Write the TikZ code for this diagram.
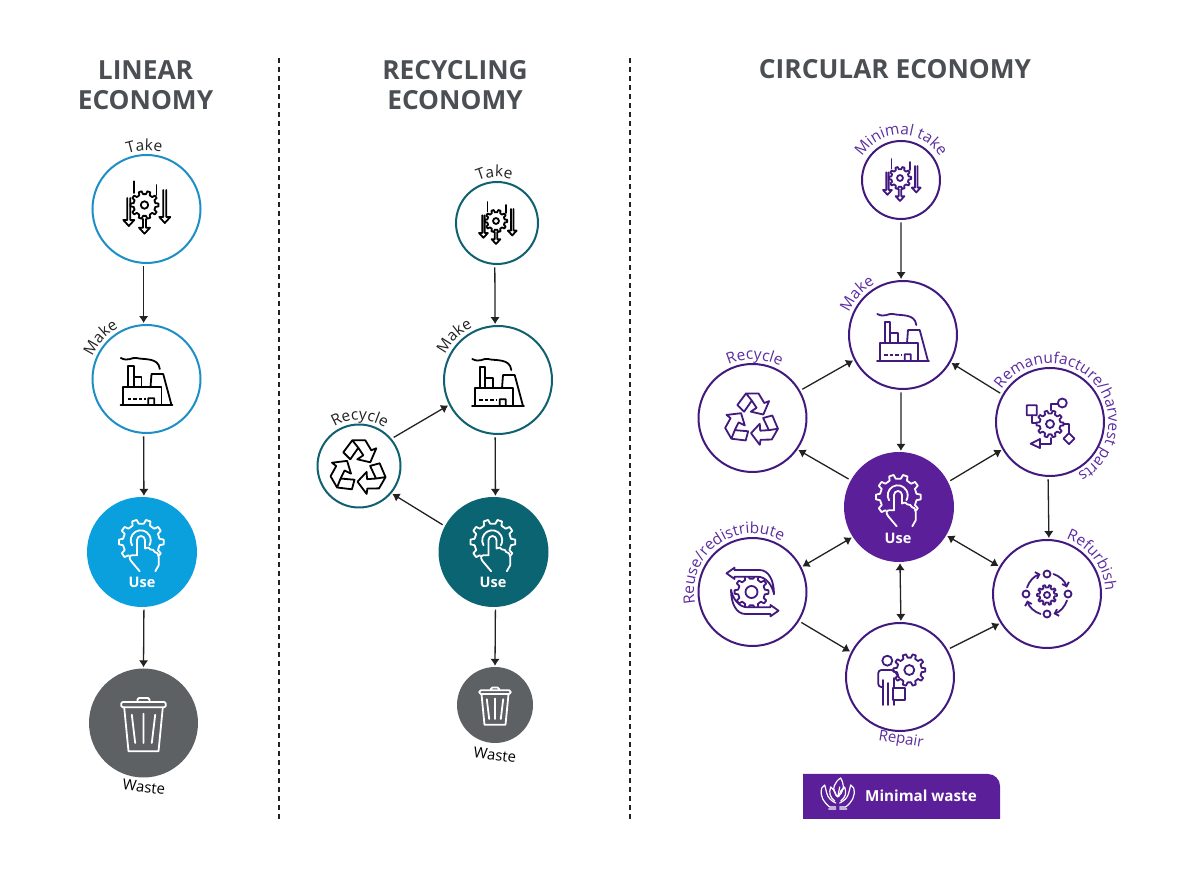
\documentclass[tikz,border=0pt]{standalone}
\usepackage{fontspec}
\setmainfont{Open Sans}
\usetikzlibrary{arrows.meta,calc,decorations.text}
\definecolor{Ink}{HTML}{222222}
\definecolor{Heading}{HTML}{4B4F54}
\definecolor{Sky}{HTML}{0A9FDD}
\definecolor{SkyLine}{HTML}{1E8FC6}
\definecolor{Petrol}{HTML}{0B6472}
\definecolor{PetrolLine}{HTML}{0F6070}
\definecolor{Bin}{HTML}{5E6163}
\definecolor{Grape}{HTML}{5A1F99}
\definecolor{GrapeLine}{HTML}{42197F}
\definecolor{GrapeText}{HTML}{5C2DA0}
\newcommand{\cog}[5]{\draw[iconline,shift={(#1,#2)}] (-10:#4) \foreach \k in {0,36,...,324}{ -- (\k-10:#4) -- (\k-6:#3) -- (\k+6:#3) -- (\k+10:#4)} -- cycle (0,0) circle (#5);}
\newcommand{\drop}[3]{\draw[iconline] (#1-1.5,#2) -- (#1-1.5,#3+6) -- (#1-5.5,#3+6) -- (#1,#3) -- (#1+5.5,#3+6) -- (#1+1.5,#3+6) -- (#1+1.5,#2);}
\newcommand{\arclabel}[5]{\path[decorate,decoration={text along path,text={|\fontsize{15.5}{15}\selectfont\color{#5}|#4},text align=center}] ($(#1)+(#3+115:#2)$) arc[start angle=#3+115,delta angle=-230,radius=#2];}
\tikzset{
flow/.style={-{Latex[length=7pt,width=9.5pt]},draw=Ink,line width=1.3pt,shorten <=2.5pt,shorten >=1pt},
both/.style={{Latex[length=7pt,width=9.5pt]}-{Latex[length=7pt,width=9.5pt]},draw=Ink,line width=1.3pt,shorten <=1pt,shorten >=1pt},
ring/.style n args={2}{circle,draw=#1,line width=2pt,fill=white,inner sep=0pt,minimum size=#2},
disc/.style n args={2}{circle,fill=#1,inner sep=0pt,minimum size=#2},
heading/.style={font=\fontsize{26.3}{30}\selectfont\bfseries,text=Heading,align=center},
usetext/.style={font=\fontsize{14.5}{15}\selectfont\bfseries,text=white},
flatlabel/.style={font=\fontsize{15}{15}\selectfont,rotate=-7},
divider/.style={draw=Ink,line width=1.7pt,dash pattern=on 5pt off 4pt},
iconline/.style={line width=1.8pt,line join=round,line cap=round},
pics/takeicon/.style={code={
\cog{0}{0}{14}{11}{3.7}
\draw[iconline] (-10.7,23.7) -- (-10.7,12) (12,20) -- (12,10);
\drop{-15.7}{7}{-21}\drop{20.3}{15}{-18}\drop{0}{-14}{-28.7}
}},
pics/makeicon/.style={code={
\draw[iconline] (-26,-26) -- (26,-26) (-23.3,-26) -- (-23.3,-8.3) -- (4,-8.3) -- (15,-8.3) -- (15,-26);
\draw[iconline] (-18.3,-8.3) -- (-18.3,13.3) -- (-12.7,13.3) -- (-12.7,-8.3) (-12.7,1.7) -- (-5,1.7) -- (-5,-8.3);
\draw[iconline] (4,-8.3) -- (5,5) -- (16.7,5) -- (25,-26) (1.7,-26) -- (1.7,-19.3) -- (7.7,-19.3) -- (7.7,-26);
\draw[iconline,dash pattern=on 3.5pt off 2pt,line cap=butt] (-19,-20) -- (-.7,-20);
\draw[iconline] (-25.7,21) .. controls (-18,17) and (-15,22) .. (-10,21) .. controls (-3,19) and (12,22) .. (13.3,10);
}},
pics/useicon/.style={code={
\cog{-.7}{10}{22.5}{18.5}{0}
\fill[#1] (-6.5,14) -- (-6,-3) -- (-13,-3) -- (-10,-12) -- (-3,-22) -- (15,-22) -- (18,-5) -- (13,2) -- (4,5) -- (4,14) -- cycle;
\draw[iconline] (-1.3,11.7) ++(-150:10) arc[start angle=-150+360,delta angle=-240,radius=10];
\draw[iconline] (-5,-3.3) -- (-5,12) arc[start angle=180,end angle=0,radius=4] -- (3,3.5) .. controls (6,5) and (8,4) .. (8.5,2.5) .. controls (10,3) and (12.7,2) .. (12.7,0) .. controls (15,0) and (16.7,-2) .. (16.7,-5) -- (16.7,-13.3) -- (13.3,-19.3);
\draw[iconline] (-5,-3.3) -- (-10,-3.3) .. controls (-13,-3.3) and (-13,-6) .. (-11,-9) -- (-2.3,-19.3);
}},
pics/binicon/.style={code={
\draw[iconline,rounded corners=1.5pt] (-22.3,15.7) rectangle (22.3,21) (-6,21) -- (-6,25) -- (6,25) -- (6,21);
\draw[iconline] (-19.3,15.7) -- (-15,-28.3) -- (15,-28.3) -- (19.3,15.7);
\draw[iconline] (-11.7,8.3) -- (-8.3,-20) (0,9.3) -- (0,-20) (11.7,8.3) -- (8.3,-20);
}},
pics/recycleicon/.style={code={
\foreach \t in {0,120,240}{
\draw[iconline,rotate=\t] (-15,16) -- (-6,28) -- (7,28) -- (13,18) -- (18,20) -- (12,6) -- (-1,9) -- (5,13) -- (0,20.5) -- (-8,9) -- cycle (-6,28) -- (0,20.5);
}
}},
pics/reuseicon/.style={code={
\cog{-1}{0}{17}{13.5}{6}
\foreach \t in {0,180}{
\draw[iconline,fill=white,rotate=\t] (-26,18.7) -- (-18,24.3) -- (-18,22) -- (7,22) .. controls (16,22) and (21.5,12) .. (21.5,-2.3) .. controls (20,6) and (14,15.3) .. (5,15.3) -- (-18,15.3) -- (-18,13) -- cycle;
}
}},
pics/remakeicon/.style={code={
\cog{0}{-2}{13.5}{10.5}{4}
\draw[iconline] (-23.3,6.7) rectangle (-13.3,16.7) (12.3,19) circle (4.5) (19,-11.2) -- (24.5,-16.7) -- (19,-22.2) -- (13.5,-16.7) -- cycle (-19.3,-21.7) -- (-10,-17) -- (-10,-26) -- cycle;
\draw[iconline] (-18.3,6.7) -- (-18.3,-1) -- (-14,-1) (7.8,18.3) -- (.7,18.3) -- (.7,11.7) (19,-11.2) -- (19,-1.7) -- (13.3,-1.7) (-10,-21.7) -- (.7,-21.7) -- (.7,-16);
}},
pics/refurbicon/.style={code={
\cog{0}{-1}{10}{7.5}{3}
\draw[iconline] (0,20) circle (3.5) (0,-20) circle (3.5) (-21,0) circle (3.5) (21,0) circle (3.5);
\foreach \t in {0,90,180,270}{
\draw[iconline,-{Straight Barb[length=3.5pt,width=7pt]}] (\t+72:21) arc[start angle=\t+72,end angle=\t+18,radius=21];
}
}},
pics/repairicon/.style={code={
\cog{9.3}{7}{16}{12.5}{5}
\draw[iconline] (-12.7,16.3) circle (5);
\draw[iconline,rounded corners=3pt] (-17.3,-10) -- (-21.7,-10) -- (-21.7,7) -- (-6,7) -- (-.7,-1);
\draw[iconline] (-17.3,-3) -- (-17.3,-28) (-11.7,-6) -- (-11.7,-28) (-6,-1) -- (-6,-28);
\draw[iconline,fill=white] (-6.7,-10.7) rectangle (5,-23);
}},
pics/handsicon/.style={code={
\draw[iconline,line width=1.2pt] (0,-2) .. controls (-8,6) and (-2,14) .. (3,17) .. controls (8,8) and (5,2) .. (0,-2) -- (2,8);
\foreach \m in {1,-1}{
\begin{scope}[xscale=\m]
\draw[iconline,line width=1.2pt] (-16,7) .. controls (-18,-2) and (-14,-7) .. (-8,-12) -- (-2,-12) (-16,7) -- (-13,10) -- (-11,2) .. controls (-10,-3) and (-6,-6) .. (-2,-8) (-9,-14) -- (-2,-14);
\draw[iconline,line width=1.2pt] (-3,-6) .. controls (-8,-2) and (-9,2) .. (-7,8) .. controls (-4,6) and (-2,3) .. (-1.5,-1);
\end{scope}
}
}}
}
\begin{document}
\begin{tikzpicture}[x=1pt,y=1pt]
\useasboundingbox (0,0) rectangle (1200,876);
\node[heading] (titlelinear) at (145.5,791) {LINEAR\\ECONOMY};
\node[heading] (titlerecycling) at (455,791) {RECYCLING\\ECONOMY};
\node[heading] (titlecircular) at (895,806.5) {CIRCULAR ECONOMY};
\coordinate (divatop) at (279,818);\coordinate (divabot) at (279,54);
\coordinate (divbtop) at (630,818);\coordinate (divbbot) at (630,54);
\draw[divider] (divatop) -- (divabot);\draw[divider] (divbtop) -- (divbbot);
%linear
\node[ring={SkyLine}{108pt}] (taketa) at (146.5,667) {};
\node[ring={SkyLine}{108pt}] (makea) at (146.5,497) {};
\node[disc={Sky}{110pt}] (usea) at (142,324) {};
\node[disc={Bin}{109pt}] (wastea) at (143.5,153) {};
\pic[color=black] at ($(taketa)+(-2,4)$) {takeicon};
\pic[color=black] at (makea) {makeicon};
\pic[color=white] at (usea) {useicon=Sky};
\pic[color=white] at (wastea) {binicon};
\node[usetext] (usetexta) at (142,294) {Use};
\node[flatlabel] (wastetexta) at (144,89) {Waste};
\arclabel{taketa}{58.5}{92}{Take}{Ink}
\arclabel{makea}{58.5}{138}{Make}{Ink}
\draw[flow] (taketa.267) -- (makea.93);\draw[flow] (makea.267) -- (usea.88);\draw[flow] (usea.272) -- (wastea.90);
%recycling
\node[ring={PetrolLine}{82pt}] (takeb) at (497,653) {};
\node[ring={PetrolLine}{108pt}] (makeb) at (498,496) {};
\node[disc={Petrol}{110pt}] (useb) at (493.5,324) {};
\node[disc={Bin}{76pt}] (wasteb) at (495,171) {};
\node[ring={PetrolLine}{83pt}] (recycleb) at (359,410) {};
\pic[color=black,scale=.8] at ($(takeb)+(-1,2)$) {takeicon};
\pic[color=black] at (makeb) {makeicon};
\pic[color=white] at (useb) {useicon=Petrol};
\pic[color=white,scale=.7] at (wasteb) {binicon};
\pic[color=black] at ($(recycleb)+(-.7,-2.3)$) {recycleicon};
\node[usetext] (usetextb) at (493,294) {Use};
\node[flatlabel] (wastetextb) at (495,121) {Waste};
\arclabel{takeb}{46}{93}{Take}{Ink}
\arclabel{makeb}{58.5}{135}{Make}{Ink}
\arclabel{recycleb}{46}{89}{Recycle}{Ink}
\draw[flow] (takeb.267) -- (makeb.93);\draw[flow] (makeb.267) -- (useb.88);\draw[flow] (useb.272) -- (wasteb.90);
\draw[flow] (recycleb.40) -- (makeb.207.5);\draw[flow] (useb.152) -- (recycleb.320.5);
%circular
\node[ring={GrapeLine}{78pt}] (takec) at (901,696) {};
\node[ring={GrapeLine}{108pt}] (makec) at (903,541) {};
\node[disc={Grape}{110pt}] (usec) at (899,369) {};
\node[ring={GrapeLine}{108pt}] (recyclec) at (752.5,458) {};
\node[ring={GrapeLine}{108pt}] (reusec) at (752.5,284) {};
\node[ring={GrapeLine}{108pt}] (remakec) at (1050,454) {};
\node[ring={GrapeLine}{108pt}] (refurbc) at (1047,282) {};
\node[ring={GrapeLine}{108pt}] (repairc) at (900,199) {};
\pic[color=GrapeLine,scale=.8] at ($(takec)+(-1,2)$) {takeicon};
\pic[color=GrapeLine] at (makec) {makeicon};
\pic[color=white] at (usec) {useicon=Grape};
\pic[color=GrapeLine,scale=.96] at ($(recyclec)+(-.7,-2.3)$) {recycleicon};
\pic[color=GrapeLine] at (reusec) {reuseicon};
\pic[color=GrapeLine] at (remakec) {remakeicon};
\pic[color=GrapeLine] at (refurbc) {refurbicon};
\pic[color=GrapeLine] at (repairc) {repairicon};
\node[usetext] (usetextc) at (898,338) {Use};
\node[flatlabel,text=GrapeText,rotate=-2] (repairtext) at (901,136) {Repair};
\arclabel{takec}{45}{90}{Minimal take}{GrapeText}
\arclabel{makec}{58.5}{138}{Make}{GrapeText}
\arclabel{recyclec}{58.5}{88}{Recycle}{GrapeText}
\arclabel{reusec}{58.5}{126}{Reuse/redistribute}{GrapeText}
\arclabel{remakec}{58.5}{42}{Remanufacture/harvest parts}{GrapeText}
\arclabel{refurbc}{58.5}{37}{Refurbish}{GrapeText}
\draw[flow] (takec.south) -- (makec.92);\draw[flow] (makec.268) -- (usec.88);
\draw[both] (usec.271) -- (repairc.89);
\draw[flow] (recyclec.30.5) -- (makec.207);\draw[flow] (usec.151.6) -- (recyclec.325);
\draw[both] (usec.213) -- (reusec.27);
\draw[flow] (reusec.328) -- (repairc.153);\draw[flow] (repairc.30) -- (refurbc.212);
\draw[flow] (usec.27) -- (remakec.210);\draw[flow] (remakec.150.6) -- (makec.330);
\draw[flow] (remakec.268) -- (refurbc.88);
\draw[both] (usec.329) -- (refurbc.150.6);
%banner
\fill[Grape] (803,57) -- (803,102) [rounded corners=12pt] -- (1000,102) [sharp corners] -- (1000,57) -- cycle;
\pic[color=white] at (837.7,81) {handsicon};
\node[font=\fontsize{15.2}{15}\selectfont\bfseries,text=white] (wastetextc) at (921,80) {Minimal waste};
\end{tikzpicture}
\end{document}
